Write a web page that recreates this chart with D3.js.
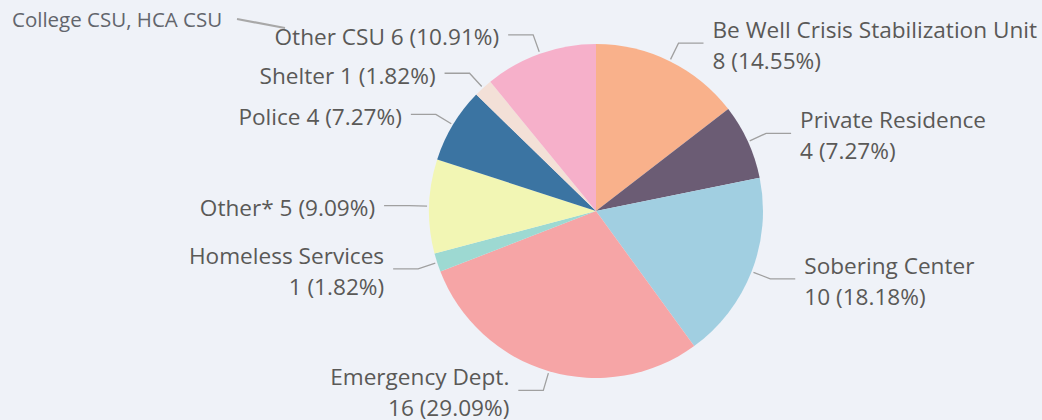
<!DOCTYPE html>
<html>
<head>
<meta charset="utf-8">
<script src="https://cdn.jsdelivr.net/npm/d3@7"></script>
<style>
  html, body { margin: 0; padding: 0; background: #eff2f8; }
  #container { width: 1042px; height: 420px; }
  text { font-family: "Segoe UI", "Open Sans", sans-serif; }
</style>
</head>
<body>
<div id="container"></div>
<script>
// Data (clockwise from 12 o'clock)
const categories = ['Be Well Crisis Stabilization Unit', 'Private Residence', 'Sobering Center',
    'Emergency Dept.', 'Homeless Services', 'Other*', 'Police', 'Shelter', 'Other CSU'];
const values = [8, 4, 10, 16, 1, 5, 4, 1, 6];
const colors = ['#f9b18b', '#6b5c74', '#a1cfe1', '#f6a5a6', '#9dd9d2', '#f2f6b4', '#3b74a2', '#f3e0d7', '#f6b0ca'];
const noteText = 'College CSU, HCA CSU';

const width = 1042;
const height = 420;
const cx = 596, cy = 211;
const radius = 167;
const fontSize = 22.6;
const lineH = 31;

const total = d3.sum(values);
const data = categories.map((c, i) => ({ name: c, value: values[i], color: colors[i] }));

const svg = d3.select('#container').append('svg')
    .attr('width', width)
    .attr('height', height);

const g = svg.append('g').attr('transform', 'translate(' + cx + ',' + cy + ')');

const pie = d3.pie().value(d => d.value).sort(null);
const arcs = pie(data);

const arc = d3.arc().innerRadius(0).outerRadius(radius);
const lineStart = d3.arc().innerRadius(radius + 2).outerRadius(radius + 2);
const elbowArc = d3.arc().innerRadius(radius + 20).outerRadius(radius + 20);

//Slices
g.selectAll('path.slice')
    .data(arcs)
    .enter()
    .append('path')
    .attr('class', 'slice')
    .attr('d', arc)
    .attr('fill', d => d.data.color);

const midAngle = d => (d.startAngle + d.endAngle) / 2;
const isRight = d => midAngle(d) < Math.PI;
const pct = d => (d.data.value / total * 100).toFixed(2) + '%';
// upper-left labels fit on one line
const oneLine = d => midAngle(d) > Math.PI * 1.45;

//Leader lines
g.selectAll('polyline')
    .data(arcs)
    .enter()
    .append('polyline')
    .attr('fill', 'none')
    .attr('stroke', '#a0a0a0')
    .attr('stroke-width', 1.3)
    .attr('points', d => {
        const a = lineStart.centroid(d);
        const b = elbowArc.centroid(d);
        const c = [b[0] + (isRight(d) ? 25 : -25), b[1]];
        return [a, b, c].map(p => p.join(',')).join(' ');
    });

//Labels
const labels = g.selectAll('text.label')
    .data(arcs)
    .enter()
    .append('text')
    .attr('class', 'label')
    .attr('fill', '#5a5957')
    .attr('font-size', fontSize)
    .attr('text-anchor', d => isRight(d) ? 'start' : 'end')
    .attr('transform', d => {
        const b = elbowArc.centroid(d);
        const x = b[0] + (isRight(d) ? 34 : -34);
        return 'translate(' + x + ',' + b[1] + ')';
    });

labels.each(function (d) {
    const t = d3.select(this);
    const second = d.data.value + ' (' + pct(d) + ')';
    const base = fontSize * 0.35 + 2.5;
    if (oneLine(d)) {
        t.append('tspan').attr('x', 0).attr('y', base).text(d.data.name + ' ' + second);
    } else {
        t.append('tspan').attr('x', 0).attr('y', base - lineH / 2).text(d.data.name);
        t.append('tspan').attr('x', 0).attr('y', base + lineH / 2).text(second);
    }
});

//Annotation note pointing to Other CSU
svg.append('text')
    .attr('x', 12)
    .attr('y', 27)
    .attr('fill', '#62656c')
    .attr('font-size', 20.5)
    .text(noteText);

svg.append('line')
    .attr('x1', 237).attr('y1', 19)
    .attr('x2', 285).attr('y2', 28)
    .attr('stroke', '#a8a8a8')
    .attr('stroke-width', 2.2);
</script>
</body>
</html>
